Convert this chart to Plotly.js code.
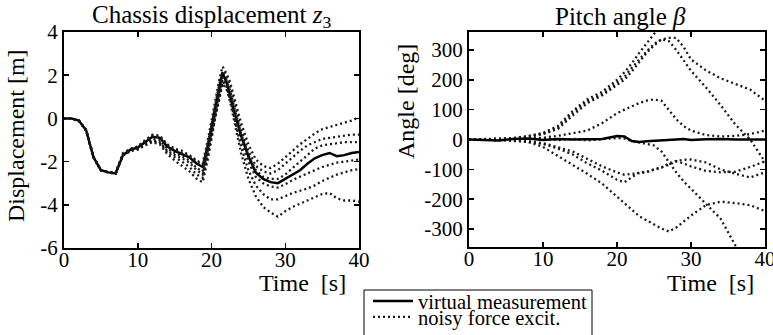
<!DOCTYPE html>
<html>
<head>
<meta charset="utf-8">
<script src="https://cdn.plot.ly/plotly-3.0.1.min.js"></script>
<style>html,body{margin:0;padding:0;background:#fff;}#chart{width:773px;height:335px;}</style>
</head>
<body>
<div id="chart"></div>
<script>
// ---------- Data: chassis displacement z3 ----------
const t = [0,1,2,3,4,5,6,7,8,9,10,11,12,13,14,15,16,17,18,18.8,19.5,20,20.5,21,21.5,22,22.5,23,24,25,26,27,28,29,30,31,32,33,34,35,36,37,38,39,40];
const zMeas = [0,0,-0.1,-0.55,-1.8,-2.4,-2.5,-2.55,-1.7,-1.45,-1.35,-1.1,-0.85,-0.9,-1.3,-1.5,-1.65,-1.8,-2.1,
  -2.25,-1.3,-0.4,0.5,1.3,2.1,1.7,1.1,0.4,
  -0.8,-1.75,-2.5,-2.8,-2.95,-3.0,-2.8,-2.6,-2.4,-2.1,-1.85,-1.7,-1.6,-1.75,-1.7,-1.6,-1.55];
const zNoisy1 = [0,0,-0.1,-0.55,-1.8,-2.4,-2.5,-2.5,-1.6,-1.4,-1.3,-1.0,-0.75,-0.8,-1.2,-1.4,-1.5,-1.7,-1.95,
  -2.1,-1.0,-0.1,0.9,1.7,2.4,2.1,1.7,1.1,
  -0.2,-1.2,-1.9,-2.2,-2.3,-2.1,-1.8,-1.5,-1.2,-0.95,-0.7,-0.5,-0.4,-0.3,-0.2,-0.1,0.05];
const zNoisy2 = [0,0,-0.1,-0.55,-1.8,-2.4,-2.5,-2.55,-1.65,-1.45,-1.3,-1.05,-0.8,-0.85,-1.25,-1.45,-1.6,-1.75,-2.0,
  -2.2,-1.2,-0.3,0.7,1.5,2.2,2.0,1.5,0.8,
  -0.5,-1.5,-2.2,-2.45,-2.55,-2.4,-2.1,-1.8,-1.5,-1.25,-1.1,-0.95,-0.9,-0.85,-0.8,-0.75,-0.75];
const zNoisy3 = [0,0,-0.1,-0.55,-1.8,-2.4,-2.5,-2.55,-1.7,-1.5,-1.4,-1.15,-0.95,-1.0,-1.4,-1.6,-1.75,-1.95,-2.3,
  -2.45,-1.5,-0.6,0.3,1.1,1.9,1.8,1.3,0.6,
  -0.7,-1.7,-2.4,-2.7,-2.8,-2.8,-2.6,-2.3,-2.0,-1.7,-1.4,-1.25,-1.2,-1.15,-1.1,-1.1,-1.1];
const zNoisy4 = [0,0,-0.1,-0.55,-1.8,-2.4,-2.5,-2.55,-1.7,-1.5,-1.4,-1.2,-1.0,-1.1,-1.5,-1.7,-1.85,-2.05,-2.4,
  -2.6,-1.6,-0.7,0.2,1.0,1.8,1.6,1.0,0.3,
  -1.0,-2.0,-2.7,-3.0,-3.15,-3.2,-3.05,-2.85,-2.7,-2.55,-2.4,-2.25,-2.15,-2.05,-2.0,-1.95,-1.9];
const zNoisy5 = [0,0,-0.1,-0.55,-1.8,-2.4,-2.5,-2.55,-1.7,-1.5,-1.4,-1.2,-1.05,-1.15,-1.55,-1.8,-2.0,-2.25,-2.6,
  -2.75,-1.7,-0.8,0.1,0.9,1.7,1.5,0.9,0.2,
  -1.3,-2.4,-3.1,-3.5,-3.75,-3.75,-3.6,-3.45,-3.35,-3.25,-3.1,-2.9,-2.75,-2.6,-2.5,-2.4,-2.35];
const zNoisy6 = [0,0,-0.1,-0.55,-1.8,-2.4,-2.5,-2.55,-1.7,-1.5,-1.45,-1.25,-1.1,-1.2,-1.65,-1.95,-2.2,-2.45,-2.8,
  -2.95,-1.9,-0.9,0.0,0.8,1.6,1.4,0.8,0.0,
  -1.6,-2.8,-3.6,-4.1,-4.35,-4.55,-4.3,-4.1,-3.95,-3.8,-3.65,-3.5,-3.45,-3.7,-3.8,-3.8,-3.85];

// ---------- Data: pitch angle beta ----------
const tp = [0,2,4,6,8,10,12,14,16,18,20,21,22,23,24,25,26,27,28,29,30,32,34,36,38,40];
const bMeas  = [0,-2,-3,2,3,-2,2,0,1,2,12,10,-5,-8,-6,-5,-3,-2,0,2,-2,1,2,0,1,0];
const bNoisy1 = [0,0,2,5,12,22,45,95,135,160,200,225,255,290,320,350,385,420,450,480,500,520,540,560,580,600];
const bNoisy2 = [0,0,2,4,10,20,40,88,128,152,190,210,240,268,295,320,335,340,340,310,268,232,205,186,167,130];
const bNoisy3 = [0,0,1,4,8,18,35,80,122,148,183,200,228,260,290,315,335,330,300,265,230,175,115,50,0,-75];
const bNoisy4 = [0,0,-2,2,3,6,12,20,30,55,88,100,112,122,130,134,130,98,68,45,30,15,10,12,18,30];
const bNoisy5 = [0,0,-2,-5,-8,-15,-30,-50,-80,-105,-135,-143,-125,-110,-108,-102,-95,-80,-72,-68,-67,-77,-100,-115,-127,-110];
const bNoisy6 = [0,0,0,-3,-6,-12,-25,-40,-65,-90,-110,-118,-115,-112,-110,-100,-92,-85,-73,-80,-90,-105,-110,-108,-92,-73];
const bNoisy7 = [0,0,0,-3,-8,-25,-55,-85,-115,-148,-190,-212,-235,-257,-270,-285,-298,-308,-295,-275,-255,-220,-208,-213,-220,-240];
const bNoisy8 = [0,1,3,-2,0,3,-2,2,-3,2,5,3,-5,-10,-15,-20,-40,-75,-110,-140,-165,-215,-265,-355,-440,-520];

// ---------- Tick labels ----------
const xTickVals = [0,10,20,30,40];
const xTickText = ['0','10','20','30','40'];
const zTickVals = [-6,-4,-2,0,2,4];
const zTickText = ['-6','-4','-2','0','2','4'];
const bTickVals = [-300,-200,-100,0,100,200,300];
const bTickText = ['-300','-200','-100','0','100','200','300'];

const FONT = 'Liberation Serif, Times New Roman, serif';
const dotLine = {color:'#1a1a1a', width:2.3, dash:'2px,3px'};
const solidLine = {color:'#000', width:2.5};

const zNoisy = [zNoisy1,zNoisy2,zNoisy3,zNoisy4,zNoisy5,zNoisy6];
const bNoisy = [bNoisy1,bNoisy2,bNoisy3,bNoisy4,bNoisy5,bNoisy6,bNoisy7,bNoisy8];

const traces = [];
traces.push({x:t,y:zMeas,type:'scatter',mode:'lines',line:solidLine,xaxis:'x',yaxis:'y',
  name:'virtual measurement',legend:'legend',showlegend:true});
zNoisy.forEach((y,i)=>traces.push({x:t,y:y,type:'scatter',mode:'lines',line:dotLine,xaxis:'x',yaxis:'y',
  name:'noisy force excit.',legend:'legend2',showlegend:i===0,hoverinfo:'skip'}));
bNoisy.forEach((y,i)=>traces.push({x:tp,y:y,type:'scatter',mode:'lines',line:dotLine,xaxis:'x2',yaxis:'y2',
  name:'noisy force excit.',legend:'legend2',showlegend:false,hoverinfo:'skip'}));
traces.push({x:tp,y:bMeas,type:'scatter',mode:'lines',line:solidLine,xaxis:'x2',yaxis:'y2',
  name:'virtual measurement',legend:'legend',showlegend:false});

const W=773, H=335;
const px = v => v/W, py = v => (H-v)/H;

const axisCommon = {
  showline:true, linecolor:'#000', linewidth:2, mirror:'ticks',
  ticks:'inside', ticklen:5, tickwidth:1.5, tickcolor:'#000',
  showgrid:false, zeroline:false, tickfont:{family:FONT,size:21,color:'#000'},
  tickmode:'array', fixedrange:true, ticklabeloverflow:'allow', automargin:false
};

const legendCommon = {xanchor:'left', yanchor:'top', bgcolor:'rgba(0,0,0,0)',
  borderwidth:0, font:{family:FONT,size:20.6,color:'#000'}, itemwidth:40};

const layout = {
  width:W, height:H, margin:{l:0,r:0,t:0,b:0,autoexpand:false},
  paper_bgcolor:'#fff', plot_bgcolor:'#fff',
  font:{family:FONT,color:'#000'},
  showlegend:true,
  legend:Object.assign({}, legendCommon, {x:px(368), y:py(281)}),
  legend2:Object.assign({}, legendCommon, {x:px(368), y:py(297)}),
  xaxis:Object.assign({}, axisCommon, {domain:[px(64),px(359)], range:[0,40], anchor:'y',
    tickvals:xTickVals, ticktext:xTickText, ticklabelstandoff:-8}),
  yaxis:Object.assign({}, axisCommon, {domain:[py(248),py(32)], range:[-6,4], anchor:'x',
    tickvals:zTickVals, ticktext:zTickText}),
  xaxis2:Object.assign({}, axisCommon, {domain:[px(469),px(765)], range:[0,40], anchor:'y2',
    tickvals:xTickVals, ticktext:xTickText, ticklabelstandoff:-8}),
  yaxis2:Object.assign({}, axisCommon, {domain:[py(247),py(32)], range:[-360,360], anchor:'x2',
    tickvals:bTickVals, ticktext:bTickText}),
  shapes:[
    {type:'rect', xref:'paper', yref:'paper', x0:px(364), x1:px(592), y0:py(345), y1:py(290),
      line:{color:'#000', width:1}, fillcolor:'rgba(0,0,0,0)', layer:'below'}
  ],
  annotations:[
    {text:'Chassis displacement <i>z</i><sub>3</sub>', xref:'paper', yref:'paper', x:px(212), y:py(16),
      xanchor:'center', yanchor:'middle', showarrow:false, font:{family:FONT,size:25,color:'#000'}},
    {text:'Pitch angle <i>β</i>', xref:'paper', yref:'paper', x:px(620), y:py(16),
      xanchor:'center', yanchor:'middle', showarrow:false, font:{family:FONT,size:25,color:'#000'}},
    {text:'Time\u00a0\u00a0[s]', xref:'paper', yref:'paper', x:px(302), y:py(283),
      xanchor:'center', yanchor:'middle', showarrow:false, font:{family:FONT,size:24,color:'#000'}},
    {text:'Time\u00a0\u00a0[s]', xref:'paper', yref:'paper', x:px(710), y:py(283),
      xanchor:'center', yanchor:'middle', showarrow:false, font:{family:FONT,size:24,color:'#000'}},
    {text:'Displacement [m]', xref:'paper', yref:'paper', x:px(16), y:py(136), textangle:-90,
      xanchor:'center', yanchor:'middle', showarrow:false, font:{family:FONT,size:24,color:'#000'}},
    {text:'Angle [deg]', xref:'paper', yref:'paper', x:px(406), y:py(102), textangle:-90,
      xanchor:'center', yanchor:'middle', showarrow:false, font:{family:FONT,size:24,color:'#000'}}
  ]
};

Plotly.newPlot('chart', traces, layout, {staticPlot:true, displayModeBar:false});
</script>
</body>
</html>
